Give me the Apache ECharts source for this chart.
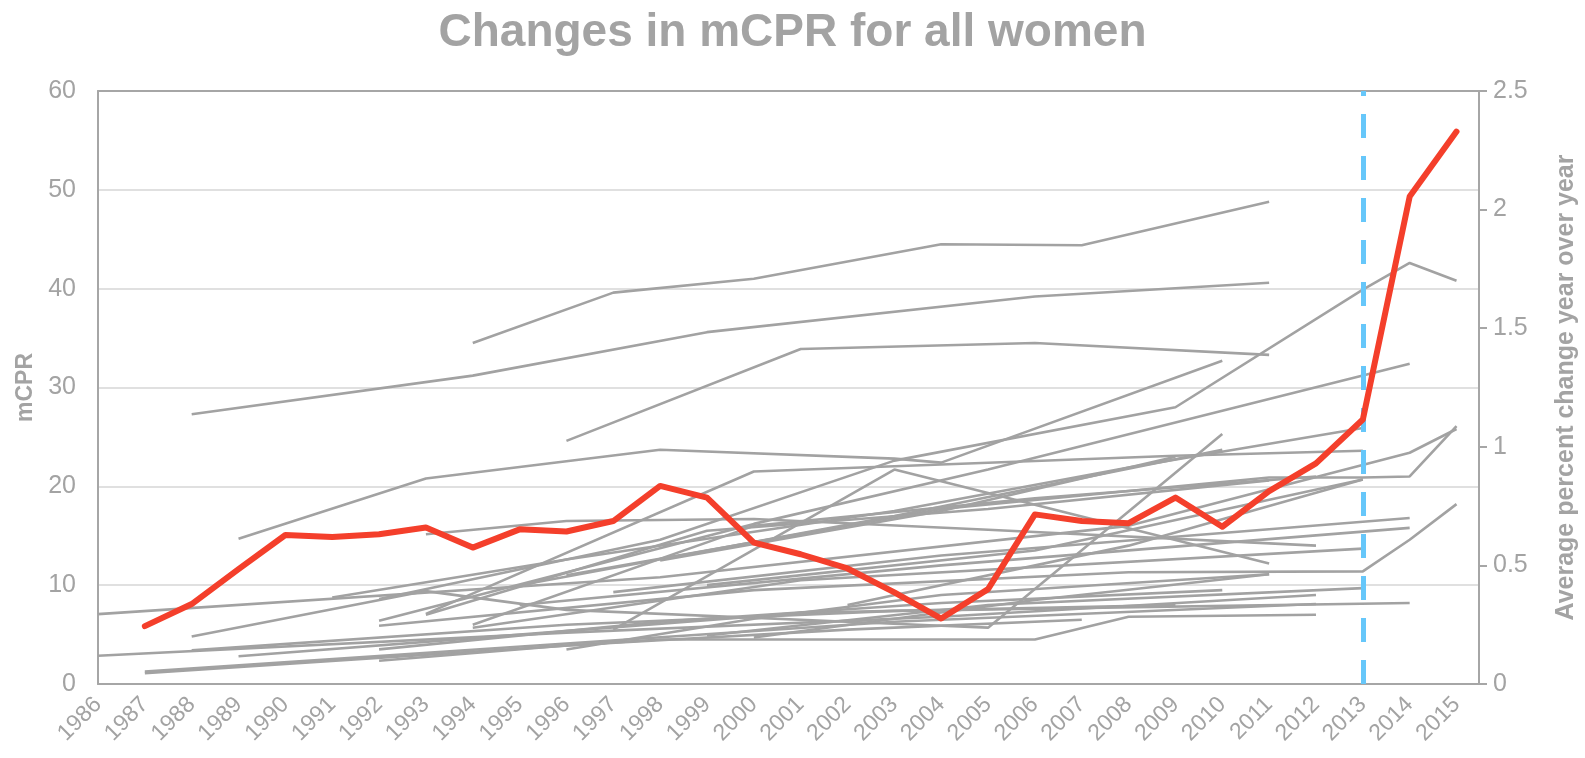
<!DOCTYPE html>
<html>
<head>
<meta charset="utf-8">
<script src="https://cdn.jsdelivr.net/npm/echarts@6/dist/echarts.min.js"></script>
<style>
html,body{margin:0;padding:0;background:#fff;}
#chart{width:1585px;height:758px;}
</style>
</head>
<body>
<div id="chart"></div>
<script>
// ---- Data ----
const years = [1986,1987,1988,1989,1990,1991,1992,1993,1994,1995,1996,1997,1998,1999,2000,
               2001,2002,2003,2004,2005,2006,2007,2008,2009,2010,2011,2012,2013,2014,2015];
const yearLabels = years.map(String);
const leftTicks = [0,10,20,30,40,50,60];
const rightTicks = [0,0.5,1,1.5,2,2.5];
const markYear = 2013;

// average percent change year over year (right axis)
const avgChange = [null,0.244,0.337,0.484,0.628,0.620,0.631,0.660,0.575,0.652,0.643,0.687,0.835,0.786,0.596,
                   0.547,0.487,0.386,0.276,0.400,0.715,0.687,0.678,0.786,0.663,0.813,0.930,1.115,2.055,2.329];

// country mCPR survey points [year, mCPR] (left axis)
const c01 = [[1994,34.5],[1997,39.6],[2000,41.0],[2004,44.5],[2007,44.4],[2011,48.8]];
const c02 = [[1988,27.3],[1994,31.2],[1999,35.6],[2006,39.2],[2011,40.6]];
const c03 = [[1996,24.6],[2001,33.9],[2006,34.5],[2011,33.3]];
const c04 = [[1989,14.7],[1993,20.8],[1998,23.7],[2003,22.8],[2004,22.4],[2010,32.7]];
const c05 = [[1992,8.6],[1998,14.6],[2003,22.6],[2009,28.0],[2013,39.9],[2014,42.6],[2015,40.8]];
const c06 = [[1993,7.1],[2000,21.5],[2009,23.1],[2013,23.6]];
const c07 = [[1997,5.5],[2003,21.7],[2011,12.2]];
const c08 = [[1992,6.4],[2000,16.2],[2005,21.7],[2014,32.4]];
const c09 = [[1988,4.8],[1993,9.4],[1996,7.5],[2004,5.9],[2005,5.7],[2010,25.3]];
const c10 = [[1991,8.75],[1996,12.6],[2003,17.5],[2008,21.9],[2013,25.9]];
const c11 = [[1993,15.15],[1996,16.5],[2000,16.7],[2005,15.6],[2012,14.0]];
const c12 = [[1996,11.0],[2004,17.7],[2011,20.9],[2013,20.9],[2014,21.0],[2015,26.1]];
const c13 = [[1986,7.07],[1998,10.8],[2008,16.0],[2014,23.4],[2015,25.8]];
const c14 = [[1999,10.0],[2006,13.5],[2013,20.7]];
const c15 = [[2002,8.0],[2008,14.0],[2013,20.7]];
const c16 = [[1992,5.9],[2000,9.5],[2008,11.3],[2013,11.4],[2014,14.6],[2015,18.2]];
const c17 = [[1994,5.7],[2001,10.5],[2013,13.7]];
const c18 = [[1997,9.3],[2004,13.0],[2014,16.8]];
const c19 = [[1995,8.0],[2004,12.0],[2014,15.8]];
const c20 = [[2000,4.7],[2006,8.5],[2011,11.1]];
const c21 = [[1999,4.9],[2005,8.0],[2013,9.7]];
const c22 = [[1987,1.1],[1998,4.5],[2006,4.5],[2008,6.8],[2012,7.0]];
const c23 = [[1987,1.25],[1996,4.1],[2003,6.3],[2012,8.1]];
const c24 = [[1986,2.86],[1996,5.2],[2004,6.8],[2012,9.0]];
const c25 = [[1988,3.4],[1996,6.0],[2003,7.4],[2014,8.2]];
const c26 = [[1989,2.8],[1995,5.0],[2001,7.2],[2009,8.0]];
const c27 = [[1992,2.36],[1996,3.9],[2002,5.5],[2007,6.5]];
const c28 = [[1992,3.5],[1998,6.3],[2004,8.2],[2010,9.5]];
const c29 = [[1996,3.5],[2000,6.6],[2004,9.0],[2011,11.1]];
const c30 = [[1998,12.5],[2004,17.5],[2009,23.0]];
const c31 = [[1995,10.0],[2003,17.0],[2010,23.7]];
const c32 = [[1993,7.0],[1999,15.5],[2005,17.7],[2011,20.6]];
const c33 = [[1994,6.0],[2000,16.0],[2006,18.8],[2012,21.0]];
const countryLines = [c01,c02,c03,c04,c05,c06,c07,c08,c09,c10,c11,c12,c13,c14,c15,c16,
                      c17,c18,c19,c20,c21,c22,c23,c24,c25,c26,c27,c28,c29,c30,c31,c32,c33];

// ---- Chart ----
const FONT = '"Liberation Sans", Arial, sans-serif';
const GREY_TXT = '#a3a3a3';
const AXIS = '#a6a6a6';

const series = countryLines.map((pts, i) => ({
  name: 'country' + (i + 1),
  type: 'line',
  xAxisIndex: 0,
  yAxisIndex: 0,
  data: pts,
  symbol: 'none',
  silent: true,
  z: 2,
  lineStyle: { color: '#a2a2a2', width: 2.6 }
}));

series.push({
  name: 'Average percent change',
  type: 'line',
  xAxisIndex: 0,
  yAxisIndex: 1,
  data: years.map((y, i) => [y, avgChange[i]]).filter(p => p[1] !== null),
  symbol: 'none',
  z: 5,
  lineStyle: { color: '#f43f2b', width: 6, cap: 'round', join: 'round' },
  markLine: {
    silent: true,
    symbol: ['none', 'none'],
    label: { show: false },
    lineStyle: { color: '#66c7fa', width: 5, type: [24, 18] },
    data: [{ xAxis: markYear }]
  }
});

const chart = echarts.init(document.getElementById('chart'), null, { renderer: 'canvas' });
chart.setOption({
  animation: false,
  backgroundColor: '#ffffff',
  title: {
    text: 'Changes in mCPR for all women',
    left: 'center',
    top: 5,
    textStyle: { fontFamily: FONT, fontSize: 46, fontWeight: 'bold', color: GREY_TXT }
  },
  grid: { left: 98, right: 106, top: 91, bottom: 74, containLabel: false, outerBoundsMode: 'none' },
  xAxis: [{
    type: 'value',
    min: 1986,
    max: 2015.48,
    interval: 1,
    position: 'bottom',
    axisLine: { show: true, lineStyle: { color: AXIS, width: 2 } },
    axisTick: { show: false },
    splitLine: { show: false },
    axisLabel: {
      rotate: 45,
      margin: 17,
      fontFamily: FONT,
      fontSize: 23,
      color: GREY_TXT,
      formatter: v => { const i = years.indexOf(Math.round(v)); return (Math.abs(v - Math.round(v)) < 1e-6 && i >= 0) ? yearLabels[i] : ''; }
    }
  }, {
    type: 'value',
    min: 1986,
    max: 2015.48,
    position: 'top',
    axisLine: { show: true, onZero: false, lineStyle: { color: AXIS, width: 2 } },
    axisTick: { show: false },
    axisLabel: { show: false },
    splitLine: { show: false }
  }],
  yAxis: [{
    type: 'value',
    min: leftTicks[0],
    max: leftTicks[leftTicks.length - 1],
    interval: 10,
    position: 'left',
    name: 'mCPR',
    nameLocation: 'middle',
    nameRotate: 90,
    nameGap: 57,
    nameTextStyle: { fontFamily: FONT, fontSize: 23, fontWeight: 'bold', color: GREY_TXT },
    axisLine: { show: true, lineStyle: { color: AXIS, width: 2 } },
    axisTick: { show: false },
    axisLabel: { margin: 22, fontFamily: FONT, fontSize: 25, color: GREY_TXT },
    splitLine: { show: true, lineStyle: { color: '#d6d6d6', width: 1.5 } }
  }, {
    type: 'value',
    min: rightTicks[0],
    max: rightTicks[rightTicks.length - 1],
    interval: 0.5,
    position: 'right',
    name: 'Average percent change year over year',
    nameLocation: 'middle',
    nameRotate: 90,
    nameGap: 75,
    nameTextStyle: { fontFamily: FONT, fontSize: 25, fontWeight: 'bold', color: GREY_TXT },
    axisLine: { show: true, lineStyle: { color: AXIS, width: 2 } },
    axisTick: { show: true, length: 8, inside: false, lineStyle: { color: AXIS, width: 2 } },
    axisLabel: { margin: 14, fontFamily: FONT, fontSize: 25, color: GREY_TXT },
    splitLine: { show: false }
  }],
  series: series
});
</script>
</body>
</html>
